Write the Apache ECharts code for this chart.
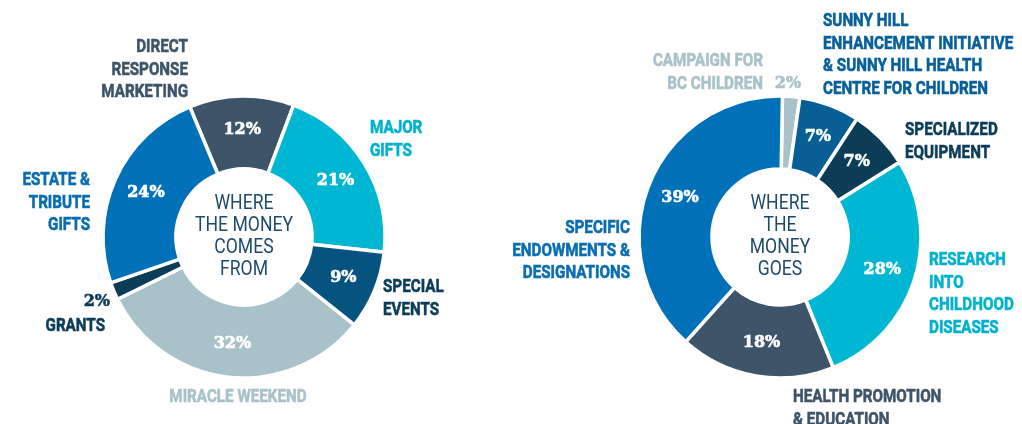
<!DOCTYPE html>
<html>
<head>
<meta charset="utf-8">
<script src="https://cdn.jsdelivr.net/npm/echarts@6/dist/echarts.min.js"></script>
<style>
  html, body { margin: 0; padding: 0; background: #fff; }
  #main { width: 1022px; height: 424px; }
</style>
</head>
<body>
<div id="main"></div>
<script>
// where the money comes from
var fromNames = ['DIRECT\nRESPONSE\nMARKETING', 'MAJOR\nGIFTS', 'SPECIAL\nEVENTS', 'MIRACLE WEEKEND', 'GRANTS', 'ESTATE &\nTRIBUTE\nGIFTS'];
var fromValues = [12, 21, 9, 32, 2, 24];
var fromColors = ['#3e5569', '#00b7d3', '#07537f', '#a9c2c9', '#0b3d57', '#0071b9'];

// where the money goes
var goesNames = ['CAMPAIGN FOR\nBC CHILDREN', 'SUNNY HILL\nENHANCEMENT INITIATIVE\n& SUNNY HILL HEALTH\nCENTRE FOR CHILDREN', 'SPECIALIZED\nEQUIPMENT', 'RESEARCH\nINTO\nCHILDHOOD\nDISEASES', 'HEALTH PROMOTION\n& EDUCATION', 'SPECIFIC\nENDOWMENTS &\nDESIGNATIONS'];
var goesValues = [2, 7, 7, 28, 18, 39];
var goesColors = ['#a9c2c9', '#075f96', '#0b3d57', '#00b7d3', '#3e5569', '#0071b9'];

var centerTitles = ['WHERE\nTHE MONEY\nCOMES\nFROM', 'WHERE\nTHE\nMONEY\nGOES'];

// name label anchors: [x, y(top), align]
var fromLabelPos = [[188, 36, 'right'], [370, 117, 'left'], [383, 276, 'left'], [238, 386, 'center'], [105, 315, 'right'], [90, 169, 'right']];
var goesLabelPos = [[763, 50, 'right'], [823, 10, 'left'], [905, 119, 'left'], [929, 249, 'left'], [793, 386, 'left'], [630, 217, 'right']];
var labelTextColors = {
  from: ['#3e5569', '#00b2cf', '#0b3d5a', '#a9c2c9', '#0b3d5a', '#0a6db2'],
  goes: ['#a9c2c9', '#07609a', '#0b3d5a', '#00b2cf', '#3e5569', '#0a6db2']
};

var nameFont = 'Roboto, "Liberation Sans", sans-serif';
var pctFont = '"DejaVu Serif", serif';
var narrow = 0.8;

function makeData(names, values, colors) {
  return names.map(function (n, i) {
    var small = values[i] <= 2;
    return {
      name: n,
      value: values[i],
      itemStyle: { color: colors[i] },
      label: { show: !small }
    };
  });
}

function pie(center, startAngle, names, values, colors) {
  return {
    type: 'pie',
    center: center,
    radius: [68, 141],
    startAngle: startAngle,
    clockwise: true,
    silent: true,
    itemStyle: { borderColor: '#fff', borderWidth: 3.5 },
    label: {
      show: true,
      position: 'inside',
      formatter: '{c}%',
      color: '#fff',
      fontFamily: pctFont,
      fontWeight: 'bold',
      fontSize: 16,
      textBorderColor: '#fff',
      textBorderWidth: 0.6
    },
    labelLine: { show: false },
    data: makeData(names, values, colors)
  };
}

function nameTexts(names, pos, colorsArr) {
  return names.map(function (n, i) {
    return {
      type: 'text',
      x: pos[i][0],
      y: pos[i][1],
      scaleX: narrow,
      style: {
        text: n,
        align: pos[i][2],
        verticalAlign: 'top',
        fill: colorsArr[i],
        stroke: colorsArr[i],
        lineWidth: 0.6,
        font: 'bold 19px ' + nameFont,
        lineHeight: 22.5
      }
    };
  });
}

var graphics = nameTexts(fromNames, fromLabelPos, labelTextColors.from)
  .concat(nameTexts(goesNames, goesLabelPos, labelTextColors.goes));

// percentage of the thin slices sits outside
graphics.push({
  type: 'text', x: 110, y: 302,
  style: { text: fromValues[4] + '%', align: 'right', verticalAlign: 'middle', fill: '#0b3d5a', stroke: '#0b3d5a', lineWidth: 0.6, font: 'bold 16px ' + pctFont }
});
graphics.push({
  type: 'text', x: 788, y: 84,
  style: { text: goesValues[0] + '%', align: 'center', verticalAlign: 'middle', fill: '#a9c2c9', stroke: '#a9c2c9', lineWidth: 0.6, font: 'bold 16px ' + pctFont }
});

// centre captions
[[244, 237], [780, 237]].forEach(function (c, i) {
  graphics.push({
    type: 'text', x: c[0], y: c[1], scaleX: 0.88,
    style: {
      text: centerTitles[i], align: 'center', verticalAlign: 'middle',
      fill: '#1d4b69', font: '20px ' + nameFont, lineHeight: 21.7
    }
  });
});

var myChart = echarts.init(document.getElementById('main'));
var option = {
  backgroundColor: '#fff',
  animation: false,
  series: [
    pie([244, 237], 112.6, fromNames, fromValues, fromColors),
    pie([780, 237], 89, goesNames, goesValues, goesColors)
  ],
  graphic: graphics
};
myChart.setOption(option);
</script>
</body>
</html>
